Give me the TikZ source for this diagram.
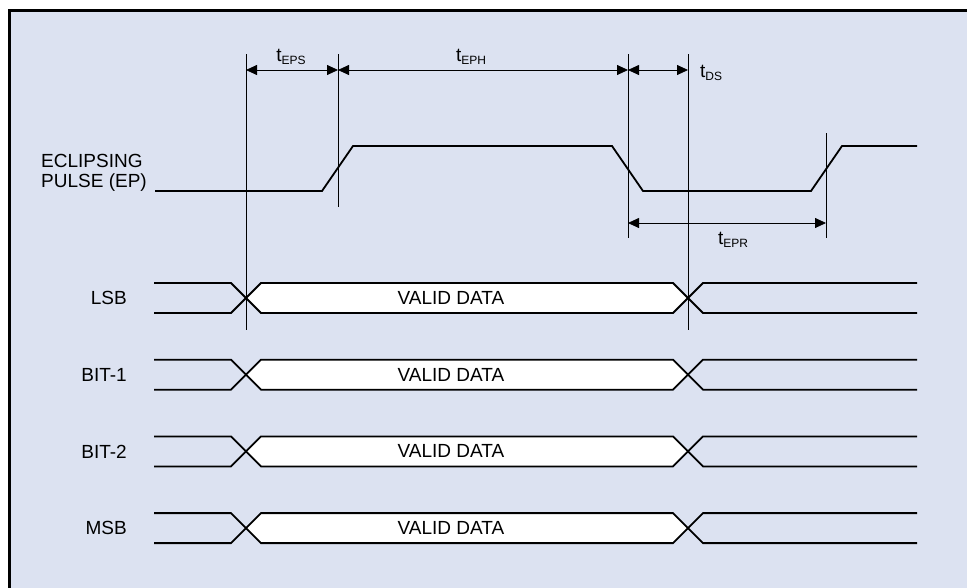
\documentclass[tikz,border=0pt]{standalone}
\usepackage{fontspec}
\setmainfont{Liberation Sans}
\usetikzlibrary{arrows.meta,positioning}

\definecolor{panelblue}{RGB}{220,226,241}
\newcommand{\tlabel}[1]{t\raisebox{-0.35ex}{\fontsize{12}{12}\selectfont #1}}

\begin{document}
\begin{tikzpicture}[x=1pt,y=-1pt,
    sig/.style={line width=1.8pt,line join=miter},
    marker/.style={line width=0.8pt},
    dim/.style={line width=0.8pt,{Triangle[length=11pt,width=10pt]}-{Triangle[length=11pt,width=10pt]}},
    lbl/.style={font=\fontsize{19}{20}\selectfont,inner sep=0pt}]
\useasboundingbox (0,0) rectangle (967,587);
\fill[white] (0,0) rectangle (967,587);
\clip (0,0) rectangle (967,587);
\draw[line width=3pt,fill=panelblue] (9,10) rectangle (1000,620);

% eclipsing pulse
\node[lbl,anchor=west,align=left] (eplbl) at (41,173) {ECLIPSING\\PULSE (EP)};
\draw[sig] (155,191) -- (322,191) -- (353,146) -- (612,146) -- (643,191)
    -- (811,191) -- (842,146) -- (917,146);

% timing markers
\coordinate (ma) at (246,54);  \coordinate (mae) at (246,330);
\coordinate (mb) at (338,54);  \coordinate (mbe) at (338,207);
\coordinate (mc) at (628,54);  \coordinate (mce) at (628,238);
\coordinate (md) at (688,54);  \coordinate (mde) at (688,330);
\coordinate (me) at (826,133); \coordinate (mee) at (826,238);
\draw[marker] (ma) -- (mae);
\draw[marker] (mb) -- (mbe);
\draw[marker] (mc) -- (mce);
\draw[marker] (md) -- (mde);
\draw[marker] (me) -- (mee);

% dimensions
\draw[dim] (246,70) -- (338,70);
\draw[dim] (338,70) -- (628,70);
\draw[dim] (628,70) -- (688,70);
\draw[dim] (628,223) -- (826,223);
\node[lbl] (teps) at (291,57) {\tlabel{EPS}};
\node[lbl] (teph) at (471,57) {\tlabel{EPH}};
\node[lbl,anchor=west] (tds) at (700,73) {\tlabel{DS}};
\node[lbl] (tepr) at (733,240) {\tlabel{EPR}};

% data bits
\foreach \name/\txt [count=\i] in {lsb/LSB,bitone/BIT-1,bittwo/BIT-2,msb/MSB}
{
  \pgfmathsetmacro{\t}{283+(\i-1)*76.7}
  \pgfmathsetmacro{\b}{\t+30}
  \pgfmathsetmacro{\m}{\t+15}
  \fill[white] (246,\m) -- (261,\t) -- (673,\t) -- (688,\m) -- (673,\b) -- (261,\b) -- cycle;
  \draw[sig] (154,\t) -- (231,\t) -- (261,\b) -- (673,\b) -- (703,\t) -- (917,\t);
  \draw[sig] (154,\b) -- (231,\b) -- (261,\t) -- (673,\t) -- (703,\b) -- (917,\b);
  \node[lbl,anchor=east] (\name) at (127,\m) {\txt};
  \node[lbl] (\name-data) at (451,\m) {VALID DATA};
}
\end{tikzpicture}
\end{document}
